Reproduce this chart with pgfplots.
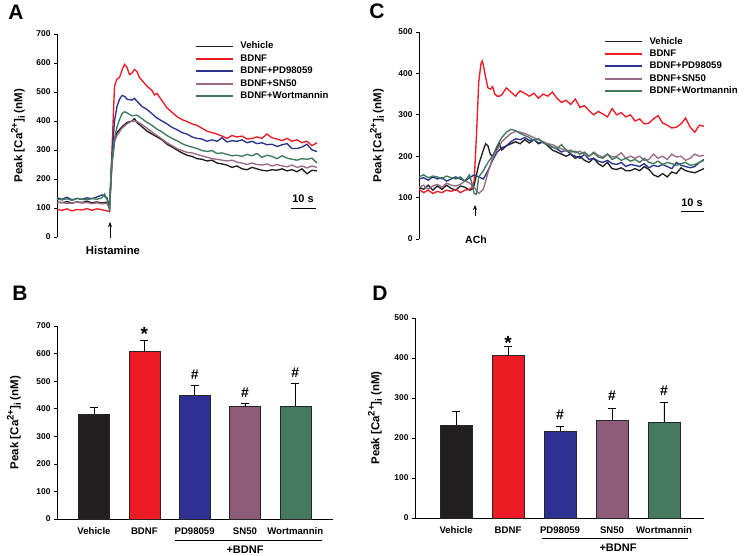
\documentclass[border=0pt]{standalone}
\usepackage{pgfplots}
\pgfplotsset{compat=1.18}
\usepackage{fontspec}
\setmainfont{Liberation Sans}
\usetikzlibrary{arrows.meta}

\definecolor{cblack}{HTML}{231F20}
\definecolor{cred}{HTML}{ED1C24}
\definecolor{cblue}{HTML}{2E3192}
\definecolor{cmauve}{HTML}{8E5B78}
\definecolor{cgreen}{HTML}{457A5F}
\definecolor{lblue}{HTML}{2B3390}
\definecolor{lmauve}{HTML}{9B6A88}
\definecolor{lgreen}{HTML}{3E7A5C}

\newcommand{\ylab}{Peak [Ca\raisebox{0.42em}{\fontsize{9.5}{9.5}\selectfont 2+}]\raisebox{-0.22em}{\fontsize{9.5}{9.5}\selectfont i} (nM)}

\pgfplotsset{
  common/.style={
    scale only axis, anchor=south west,
    /pgf/number format/assume math mode=true,
    tick align=outside, major tick length=3pt,
    tick style={black, line width=0.6pt},
    axis line style={black, line width=0.8pt},
    every tick label/.append style={font=\bfseries\fontsize{8.4}{9}\selectfont},
    ylabel=\ylab,
    ylabel style={at={(axis description cs:0,0.5)}, anchor=center,
      font=\bfseries\fontsize{11.5}{12}\selectfont},
  },
  trace/.style={common,
    axis x line=none, axis y line*=left, xtick=\empty,
    legend cell align=left,
    legend style={draw=none, fill=none, anchor=north west, inner sep=0pt,
      font=\bfseries\fontsize{9.6}{10}\selectfont,
      nodes={text height=7pt, text depth=2pt, inner sep=1.7pt},
      /tikz/every odd column/.append style={column sep=5pt}},
    legend image code/.code={\draw[##1, line width=1.7pt] (0pt,0pt) -- (37pt,0pt);},
    every axis plot/.append style={line width=1.35pt, mark=none},
  },
  bars/.style={common,
    axis x line*=bottom, axis y line*=left,
    ybar, bar shift=0pt, clip=false,
    xtick={0,...,4}, xticklabels={Vehicle,BDNF,PD98059,SN50,Wortmannin},
    x tick style={draw=none},
    xticklabel style={yshift=-2pt, font=\bfseries\fontsize{9.6}{10}\selectfont},
    every axis plot/.append style={draw=black!85, line width=0.5pt,
      error bars/y dir=plus, error bars/y explicit,
      error bars/error bar style={black, line width=0.9pt},
      error bars/error mark options={black, mark size=4pt, line width=0.9pt, rotate=90}},
  },
}

\begin{document}
\begin{tikzpicture}
\useasboundingbox (0,0) rectangle (744pt,556pt);

% ---------------- A ----------------
\begin{axis}[trace, at={(57pt,319pt)}, width=260pt, height=203pt,
  xmin=0, xmax=104, ymin=0, ymax=700, ytick={0,100,...,700},
  ylabel style={yshift=39pt},
  legend style={at={(0.53,0.97)}}]
\addplot[cblack] coordinates {(0,120)(2,118)(4,122)(6,117)(8,121)(10,119)(12,123)(14,118)(16,121)(18,117)(20,120)(21,100)(22,250)(23,330)(24,360)(26,380)(28,395)(30,400)(31,408)(32,395)(34,380)(36,365)(38,355)(40,345)(42,335)(44,320)(46,310)(48,300)(50,290)(52,282)(54,278)(56,270)(58,268)(60,262)(62,265)(64,255)(66,252)(68,248)(70,240)(72,245)(74,235)(76,232)(78,240)(80,235)(82,230)(84,228)(86,232)(88,230)(90,235)(92,228)(94,232)(96,225)(98,235)(100,218)(102,230)(104,228)};
\addlegendentry{Vehicle}
\addplot[cred] coordinates {(0,95)(2,92)(4,97)(6,90)(8,95)(10,93)(12,98)(14,92)(16,97)(18,94)(20,90)(21,88)(22,300)(23,520)(24,545)(25,550)(26,575)(27,595)(28,585)(29,560)(30,565)(31,578)(32,570)(33,550)(34,540)(36,520)(38,505)(39,490)(40,495)(42,470)(44,445)(46,430)(48,415)(50,405)(52,398)(54,390)(56,385)(58,375)(60,365)(62,360)(64,355)(66,348)(68,340)(70,350)(72,345)(74,348)(76,338)(78,340)(80,345)(82,340)(84,355)(86,342)(88,338)(90,332)(92,340)(94,330)(96,335)(98,325)(100,330)(102,315)(104,325)};
\addlegendentry{BDNF}
\addplot[lblue] coordinates {(0,135)(2,130)(4,137)(6,128)(8,133)(10,130)(12,135)(14,132)(16,138)(18,145)(20,135)(21,105)(22,280)(23,400)(24,450)(25,475)(26,488)(27,485)(28,475)(30,472)(31,478)(32,468)(34,450)(36,440)(38,425)(40,410)(42,400)(44,390)(46,378)(48,370)(50,360)(52,355)(54,345)(56,340)(58,338)(60,330)(62,335)(64,330)(66,342)(68,328)(70,332)(72,330)(74,335)(76,325)(78,330)(80,322)(82,325)(84,318)(86,320)(88,312)(90,318)(92,322)(94,305)(96,305)(98,310)(100,320)(102,300)(104,295)};
\addlegendentry{BDNF+PD98059}
\addplot[lmauve] coordinates {(0,118)(2,120)(4,115)(6,118)(8,120)(10,117)(12,119)(14,115)(16,118)(18,114)(20,116)(21,100)(22,260)(23,330)(24,350)(26,375)(28,390)(30,400)(32,398)(34,388)(36,375)(38,362)(40,350)(42,338)(44,325)(46,315)(48,305)(50,298)(52,292)(54,290)(56,285)(58,280)(60,275)(62,270)(64,268)(66,265)(68,262)(70,265)(72,258)(74,255)(76,250)(78,255)(80,250)(82,248)(84,252)(86,245)(88,250)(90,245)(92,242)(94,248)(96,240)(98,245)(100,238)(102,245)(104,240)};
\addlegendentry{BDNF+SN50}
\addplot[lgreen] coordinates {(0,130)(2,128)(4,132)(6,126)(8,133)(10,130)(12,128)(14,133)(16,130)(18,135)(19,148)(20,130)(21,95)(22,270)(23,340)(24,380)(25,405)(26,425)(27,432)(28,428)(30,418)(32,420)(34,408)(36,395)(38,385)(40,372)(42,362)(44,350)(46,340)(48,332)(50,322)(52,315)(54,310)(56,305)(58,298)(60,295)(62,298)(64,288)(66,290)(68,285)(70,280)(72,282)(74,278)(76,285)(78,280)(80,288)(82,275)(84,282)(86,278)(88,270)(90,280)(92,272)(94,268)(96,265)(98,270)(100,268)(102,272)(104,255)};
\addlegendentry{BDNF+Wortmannin}
\end{axis}

% ---------------- C ----------------
\begin{axis}[trace, at={(419pt,317pt)}, width=285pt, height=207pt,
  xmin=0, xmax=124, ymin=0, ymax=500, ytick={0,100,...,500},
  ylabel style={yshift=42pt},
  legend style={at={(0.649,0.985)}}]
\addplot[cblack] coordinates {(0,125)(2,120)(4,130)(6,118)(8,128)(10,120)(12,130)(14,122)(16,118)(18,128)(20,125)(22,118)(23,120)(24,130)(26,180)(28,215)(29,230)(30,225)(31,205)(32,200)(34,220)(35,230)(36,215)(38,225)(40,230)(42,235)(44,230)(46,240)(48,232)(50,240)(52,230)(54,235)(56,225)(58,215)(60,210)(62,205)(64,200)(66,205)(68,195)(70,200)(72,190)(74,185)(76,195)(78,182)(80,175)(82,185)(84,170)(86,168)(88,172)(90,165)(92,165)(94,170)(96,165)(98,175)(100,168)(102,155)(104,150)(106,158)(108,150)(110,162)(112,158)(114,172)(116,165)(118,162)(120,160)(122,165)(124,170)};
\addlegendentry{Vehicle}
\addplot[cred] coordinates {(0,120)(2,112)(4,118)(6,110)(8,115)(10,112)(12,118)(14,115)(16,120)(18,112)(20,118)(22,120)(23,125)(24,140)(25,250)(26,380)(27,425)(27.5,430)(28,420)(29,390)(30,365)(31,362)(32,368)(33,350)(34,345)(35,345)(36,348)(38,365)(40,355)(42,345)(44,358)(46,352)(48,345)(50,352)(52,340)(54,350)(56,345)(58,355)(60,340)(62,330)(64,335)(66,325)(68,338)(70,318)(72,322)(74,310)(76,300)(78,308)(80,302)(82,295)(84,315)(86,300)(88,305)(90,295)(92,300)(94,285)(96,290)(98,278)(100,280)(102,290)(104,298)(106,280)(108,275)(110,268)(112,270)(114,278)(116,292)(118,270)(120,258)(122,275)(124,272)};
\addlegendentry{BDNF}
\addplot[lblue] coordinates {(0,145)(2,148)(4,142)(6,150)(8,145)(10,148)(12,140)(14,145)(16,150)(18,145)(20,140)(22,148)(24,155)(26,150)(28,145)(30,165)(32,190)(34,210)(36,220)(38,225)(40,235)(42,242)(44,240)(46,245)(48,238)(50,240)(52,232)(54,235)(56,228)(58,222)(60,218)(62,210)(64,215)(66,205)(68,200)(70,195)(72,205)(74,192)(76,195)(78,188)(80,185)(82,190)(84,182)(86,180)(88,185)(90,175)(92,180)(94,178)(96,175)(98,182)(100,172)(102,178)(104,175)(106,180)(108,175)(110,170)(112,185)(114,178)(116,175)(118,172)(120,175)(122,185)(124,192)};
\addlegendentry{BDNF+PD98059}
\addplot[lmauve] coordinates {(0,125)(2,130)(4,120)(6,128)(8,132)(10,125)(12,135)(14,130)(16,128)(18,132)(20,140)(22,135)(24,125)(26,110)(28,120)(30,160)(32,195)(34,215)(36,235)(38,245)(40,255)(42,260)(44,258)(46,255)(48,250)(50,245)(52,240)(54,235)(56,230)(58,228)(60,222)(62,218)(64,212)(66,215)(68,208)(70,212)(72,205)(74,200)(76,210)(78,202)(80,198)(82,205)(84,198)(86,200)(88,208)(90,195)(92,200)(94,195)(96,200)(98,190)(100,192)(102,205)(104,195)(106,200)(108,192)(110,205)(112,198)(114,200)(116,190)(118,195)(120,205)(122,200)(124,202)};
\addlegendentry{BDNF+SN50}
\addplot[lgreen] coordinates {(0,150)(2,155)(4,148)(6,152)(8,150)(10,145)(12,152)(14,148)(16,145)(18,150)(20,140)(22,155)(23,135)(24,110)(25,108)(26,150)(28,165)(30,185)(32,200)(34,225)(36,245)(38,258)(40,265)(42,262)(44,255)(46,250)(48,245)(50,238)(52,242)(54,232)(56,228)(58,222)(60,218)(62,228)(64,215)(66,210)(68,212)(70,205)(72,210)(74,200)(76,208)(78,198)(80,195)(82,205)(84,192)(86,198)(88,190)(90,195)(92,188)(94,192)(96,185)(98,195)(100,185)(102,182)(104,188)(106,180)(108,185)(110,182)(112,178)(114,182)(116,185)(118,178)(120,180)(122,185)(124,190)};
\addlegendentry{BDNF+Wortmannin}
\end{axis}

% ---------------- B ----------------
\begin{axis}[bars, at={(57pt,37pt)}, width=276pt, height=193pt,
  xmin=-0.736, xmax=4.75, ymin=0, ymax=700, ytick={0,100,...,700},
  ylabel style={yshift=43pt}, bar width=31pt]
\addplot[fill=cblack] coordinates {(0,380) +- (0,25)};
\addplot[fill=cred] coordinates {(1,610) +- (0,37)};
\addplot[fill=cblue] coordinates {(2,450) +- (0,35)};
\addplot[fill=cmauve] coordinates {(3,408) +- (0,12)};
\addplot[fill=cgreen] coordinates {(4,410) +- (0,80)};
\node[font=\bfseries\fontsize{19}{19}\selectfont] at (axis cs:1,670) {*};
\node[font=\bfseries\fontsize{14}{14}\selectfont] at (axis cs:2,522) {\#};
\node[font=\bfseries\fontsize{14}{14}\selectfont] at (axis cs:3,457) {\#};
\node[font=\bfseries\fontsize{14}{14}\selectfont] at (axis cs:4,530) {\#};
\end{axis}

% ---------------- D ----------------
\begin{axis}[bars, at={(415pt,38pt)}, width=289pt, height=200pt,
  xmin=-0.79, xmax=4.77, ymin=0, ymax=500, ytick={0,100,...,500},
  ylabel style={yshift=40pt}, bar width=32pt]
\addplot[fill=cblack] coordinates {(0,233) +- (0,33)};
\addplot[fill=cred] coordinates {(1,406) +- (0,22)};
\addplot[fill=cblue] coordinates {(2,218) +- (0,11)};
\addplot[fill=cmauve] coordinates {(3,245) +- (0,28)};
\addplot[fill=cgreen] coordinates {(4,240) +- (0,48)};
\node[font=\bfseries\fontsize{19}{19}\selectfont] at (axis cs:1,438) {*};
\node[font=\bfseries\fontsize{14}{14}\selectfont] at (axis cs:2,257) {\#};
\node[font=\bfseries\fontsize{14}{14}\selectfont] at (axis cs:3,305) {\#};
\node[font=\bfseries\fontsize{14}{14}\selectfont] at (axis cs:4,317) {\#};
\end{axis}

% panel letters
\node[font=\bfseries\fontsize{21}{21}\selectfont] at (16pt,544pt) {A};
\node[font=\bfseries\fontsize{21}{21}\selectfont] at (377pt,545pt) {C};
\node[font=\bfseries\fontsize{21}{21}\selectfont] at (20pt,263pt) {B};
\node[font=\bfseries\fontsize{21}{21}\selectfont] at (380pt,263pt) {D};

% stimulus arrows
\draw[-{Stealth[length=5pt,width=4pt]}, line width=0.8pt] (110pt,318pt) -- (110pt,334pt);
\node[font=\bfseries\fontsize{11.3}{12}\selectfont] at (113pt,306pt) {Histamine};
\draw[-{Stealth[length=5pt,width=4pt]}, line width=0.8pt] (475pt,340pt) -- (475pt,351pt);
\node[font=\bfseries\fontsize{10.5}{11}\selectfont] at (476pt,316pt) {ACh};

% scale bars
\draw[line width=1pt] (291pt,347pt) -- (316pt,347pt);
\node[font=\bfseries\fontsize{11}{12}\selectfont] at (303pt,357pt) {10 s};
\draw[line width=1pt] (681pt,344pt) -- (704pt,344pt);
\node[font=\bfseries\fontsize{11}{12}\selectfont] at (692pt,353pt) {10 s};

% +BDNF groupings
\draw[line width=0.8pt] (175pt,16pt) -- (322pt,16pt);
\node[font=\bfseries\fontsize{11}{11}\selectfont] at (245pt,6pt) {+BDNF};
\draw[line width=0.8pt] (542pt,18pt) -- (688pt,18pt);
\node[font=\bfseries\fontsize{11}{11}\selectfont] at (618pt,8pt) {+BDNF};
\end{tikzpicture}
\end{document}
